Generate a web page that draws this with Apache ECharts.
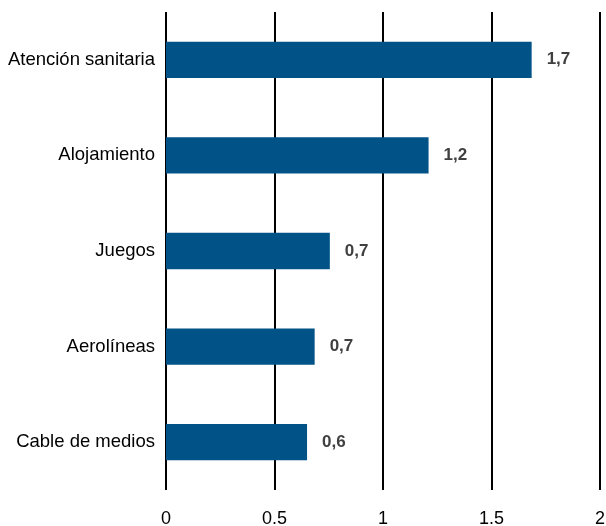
<!DOCTYPE html>
<html>
<head>
<meta charset="utf-8">
<script src="https://cdn.jsdelivr.net/npm/echarts@6/dist/echarts.min.js"></script>
<style>
  html, body { margin: 0; padding: 0; background: #fff; }
  #chart { width: 606px; height: 526px; }
</style>
</head>
<body>
<div id="chart"></div>
<script>
var categories = ['Atención sanitaria', 'Alojamiento', 'Juegos', 'Aerolíneas', 'Cable de medios'];
var values = [1.685, 1.21, 0.755, 0.685, 0.65];
var valueLabels = ['1,7', '1,2', '0,7', '0,7', '0,6'];
var xTicks = [0, 0.5, 1, 1.5, 2];

var chart = echarts.init(document.getElementById('chart'));

var option = {
    animation: false,
    grid: {
        top: 12,
        bottom: 36,
        left: 166,
        right: 6,
        outerBoundsMode: 'none'
    },
    xAxis: {
        type: 'value',
        min: xTicks[0],
        max: xTicks[xTicks.length - 1],
        interval: 0.5,
        axisLine: { show: false },
        axisTick: { show: false },
        splitLine: {
            show: true,
            lineStyle: { color: '#000', width: 2 }
        },
        axisLabel: {
            margin: 20,
            color: '#000',
            fontSize: 18,
            fontFamily: 'Liberation Sans',
            formatter: function (v) { return String(v); }
        }
    },
    yAxis: {
        type: 'category',
        inverse: true,
        data: categories,
        axisLine: { show: false },
        axisTick: { show: false },
        axisLabel: {
            margin: 11,
            color: '#000',
            fontSize: 18.5,
            fontFamily: 'Liberation Sans'
        }
    },
    series: [{
        type: 'bar',
        data: values,
        barWidth: '38%',
        itemStyle: { color: '#005287' },
        label: {
            show: true,
            position: 'right',
            distance: 15,
            color: '#404040',
            fontSize: 17,
            fontWeight: 'bold',
            fontFamily: 'Liberation Sans',
            formatter: function (p) { return valueLabels[p.dataIndex]; }
        }
    }]
};

chart.setOption(option);
</script>
</body>
</html>
